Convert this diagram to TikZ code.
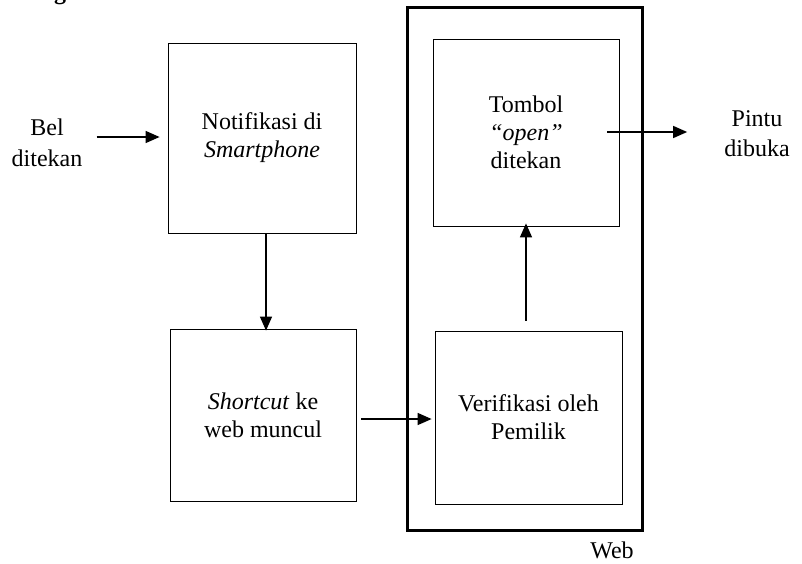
\documentclass[tikz,border=0pt]{standalone}
\usepackage{fontspec}
\setmainfont{Liberation Serif}
\usetikzlibrary{arrows.meta}
\begin{document}
\begin{tikzpicture}[x=1pt,y=-1pt,
  every node/.style={font=\fontsize{24}{28}\selectfont},
  lbl/.style={align=center,inner sep=0pt},
  flowbox/.style={draw,line width=0.8pt,align=center,inner sep=0pt},
  webbox/.style={draw,line width=3pt,inner sep=0pt},
  arr/.style={line width=1.4pt,-{Triangle[length=14pt,width=12pt]}}]
\useasboundingbox (0,0) rectangle (802,563);
\node[anchor=base,inner sep=0pt] (frag) at (60,-1) {\textbf{g}};
% outer web frame
\node[webbox,minimum width=235pt,minimum height=523pt] (web) at (524.5,268.5) {};
\node[anchor=base,inner sep=0pt] (weblbl) at (612,558) {Web};
% boxes
\node[flowbox,minimum width=188pt,minimum height=190pt] (notif) at (262,138) {Notifikasi di\\\textit{Smartphone}};
\node[flowbox,minimum width=186pt,minimum height=172pt] (short) at (263,415) {\textit{Shortcut} ke\\web muncul};
\node[flowbox,minimum width=187pt,minimum height=173pt] (verif) at (528.5,417.5) {Verifikasi oleh\\Pemilik};
\node[flowbox,minimum width=186pt,minimum height=187pt] (tombol) at (526,132.5) {Tombol\\\textit{``open''}\\ditekan};
% outside texts
\node[lbl,font=\fontsize{24}{31}\selectfont] (bel) at (47,142.5) {Bel\\ditekan};
\node[lbl,font=\fontsize{24}{30}\selectfont] (pintu) at (757,134) {Pintu\\dibuka};
% connectors
\draw[arr] ([xshift=14pt,yshift=5.5pt]bel.east) -- ([xshift=-8pt,yshift=1pt]notif.west);
\draw[arr] ([xshift=4pt]notif.south) -- ([xshift=3pt,yshift=-2pt]short.north);
\draw[arr] ([xshift=5pt,yshift=-4pt]short.east) -- ([xshift=-3pt,yshift=-1.5pt]verif.west);
\draw[arr] ([xshift=-2.5pt,yshift=10pt]verif.north) -- ([yshift=3pt]tombol.south);
\draw[arr] ([xshift=-12pt,yshift=0.5pt]tombol.east) -- ([xshift=-37pt,yshift=2pt]pintu.west);
\end{tikzpicture}
\end{document}
